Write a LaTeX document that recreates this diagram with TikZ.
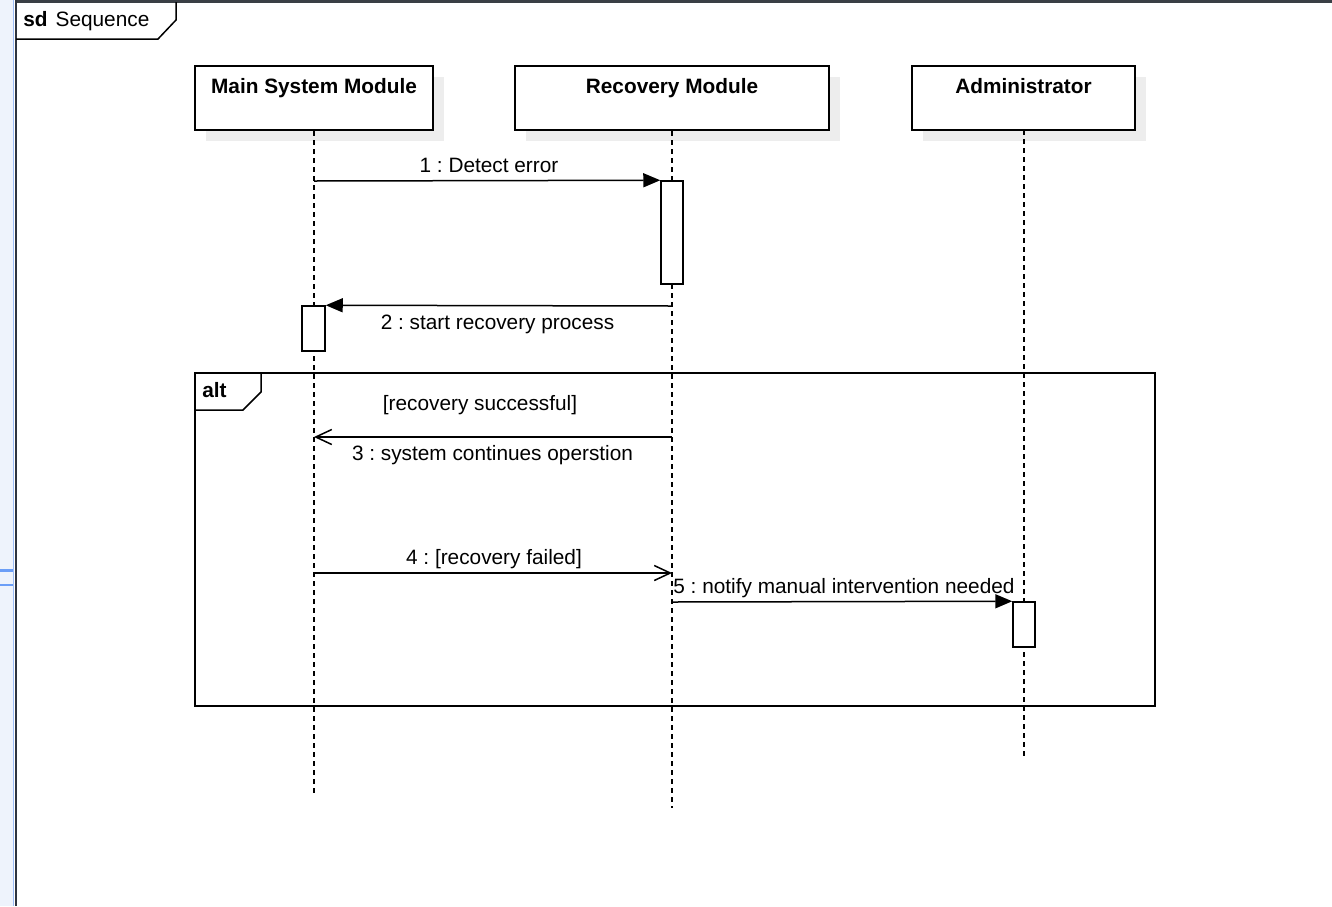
\documentclass[tikz,border=0pt]{standalone}
\usepackage{fontspec}
\setmainfont{Liberation Sans}
\usetikzlibrary{arrows.meta}
\frenchspacing
\definecolor{shadowgray}{HTML}{EDEDED}
\definecolor{stripblue}{HTML}{EEF3FC}
\definecolor{lineblue}{HTML}{6B9EF7}
\definecolor{paleblue}{HTML}{9DBDF7}
\definecolor{darkframe}{HTML}{2E3440}
\definecolor{topbar}{HTML}{3A3F45}
\tikzset{
  lifehead/.style={draw, line width=1pt, fill=white, inner sep=0pt, minimum height=32pt},
  headtext/.style={font=\fontsize{10.4pt}{12pt}\selectfont\bfseries, inner sep=0pt, anchor=base},
  lifeline/.style={line width=0.7pt, dash pattern=on 2.5pt off 2pt},
  act/.style={draw, line width=0.75pt, fill=white, inner sep=0pt, minimum width=11pt},
  msg/.style={line width=0.75pt},
  syncmsg/.style={msg, -{Triangle[length=8.5pt,width=7pt]}},
  asyncmsg/.style={msg, -{Straight Barb[length=8pt,width=7.5pt]}},
  lbl/.style={font=\fontsize{10.4pt}{12pt}\selectfont, inner sep=0pt, anchor=base},
  framebox/.style={line width=0.75pt},
  shadowbox/.style={fill=shadowgray, draw=none}
}
\begin{document}
\begin{tikzpicture}[x=0.5pt,y=-0.5pt]
\useasboundingbox (0,0) rectangle (1332,906);
\fill[white] (0,0) rectangle (1332,906);
% window artefacts
\fill[stripblue] (0,0) rectangle (14,906);
\draw[paleblue, line width=0.6pt] (13.5,0) -- (13.5,906);
\draw[lineblue, line width=1.2pt] (0,570.5) -- (13,570.5);
\draw[lineblue, line width=1.2pt] (0,585) -- (13,585);
\draw[topbar, line width=1.5pt] (15,1) -- (1332,1);
\draw[darkframe, line width=1pt] (15.5,0) -- (15.5,906);
% sd frame tab
\draw[framebox] (16,39) -- (158,39) -- (176,20) -- (176,2);
\node[lbl, anchor=base west] (sdlbl) at (23,26) {\textbf{sd}\hspace{4pt}Sequence};
% shadows
\fill[shadowbox] (206,77) rectangle (444,141);
\fill[shadowbox] (526,77) rectangle (840,141);
\fill[shadowbox] (923,77) rectangle (1146,141);
% lifeline headers
\node[lifehead, minimum width=119pt] (main) at (314,98) {};
\node[lifehead, minimum width=157pt] (rec) at (672,98) {};
\node[lifehead, minimum width=111.5pt] (adm) at (1023.5,98) {};
\node[headtext] (maint) at (314,93) {Main System Module};
\node[headtext] (rect) at (672,93) {Recovery Module};
\node[headtext] (admt) at (1023.5,93) {Administrator};
% lifeline ends
\coordinate (mainend) at (314,795);
\coordinate (recend) at (672,808);
\coordinate (admend) at (1024,757);
\draw[lifeline] (main.south) -- (mainend);
\draw[lifeline] (rec.south) -- (recend);
\draw[lifeline] (1024,130) -- (admend);
% alt frame
\draw[framebox] (195,373) rectangle (1155,706);
\draw[framebox] (195,410) -- (243,410) -- (261,392) -- (261,373);
\node[lbl, font=\fontsize{10.4pt}{12pt}\selectfont\bfseries, anchor=base west] (altlbl) at (202,397) {alt};
% activations
\node[act, minimum height=51.5pt] (act1) at (672,232.5) {};
\node[act, minimum width=11.5pt, minimum height=22.5pt] (act2) at (313.5,328.5) {};
\node[act, minimum height=22.5pt] (act3) at (1024,624.5) {};
% message endpoints
\coordinate (m1s) at (314,181);
\coordinate (m2s) at (672,306);
\coordinate (m3s) at (672,437);
\coordinate (m3e) at (314,437);
\coordinate (m4s) at (314,573);
\coordinate (m4e) at (672,573);
\coordinate (m5s) at (672,602);
% messages
\draw[syncmsg] (m1s) -- (act1.north west);
\draw[syncmsg] (m2s) -- (act2.north east);
\draw[asyncmsg] (m3s) -- (m3e);
\draw[asyncmsg] (m4s) -- (m4e);
\draw[syncmsg] (m5s) -- (act3.north west);
% labels
\node[lbl] (l1) at (489,172) {1 : Detect error};
\node[lbl] (l2) at (497.5,329) {2 : start recovery process};
\node[lbl] (g1) at (480,410) {[recovery successful]};
\node[lbl] (l3) at (492.5,460) {3 : system continues operstion};
\node[lbl] (l4) at (494,564) {4 : [recovery failed]};
\node[lbl, anchor=base west] (l5) at (673,593) {5 : notify manual intervention needed};
\end{tikzpicture}
\end{document}
